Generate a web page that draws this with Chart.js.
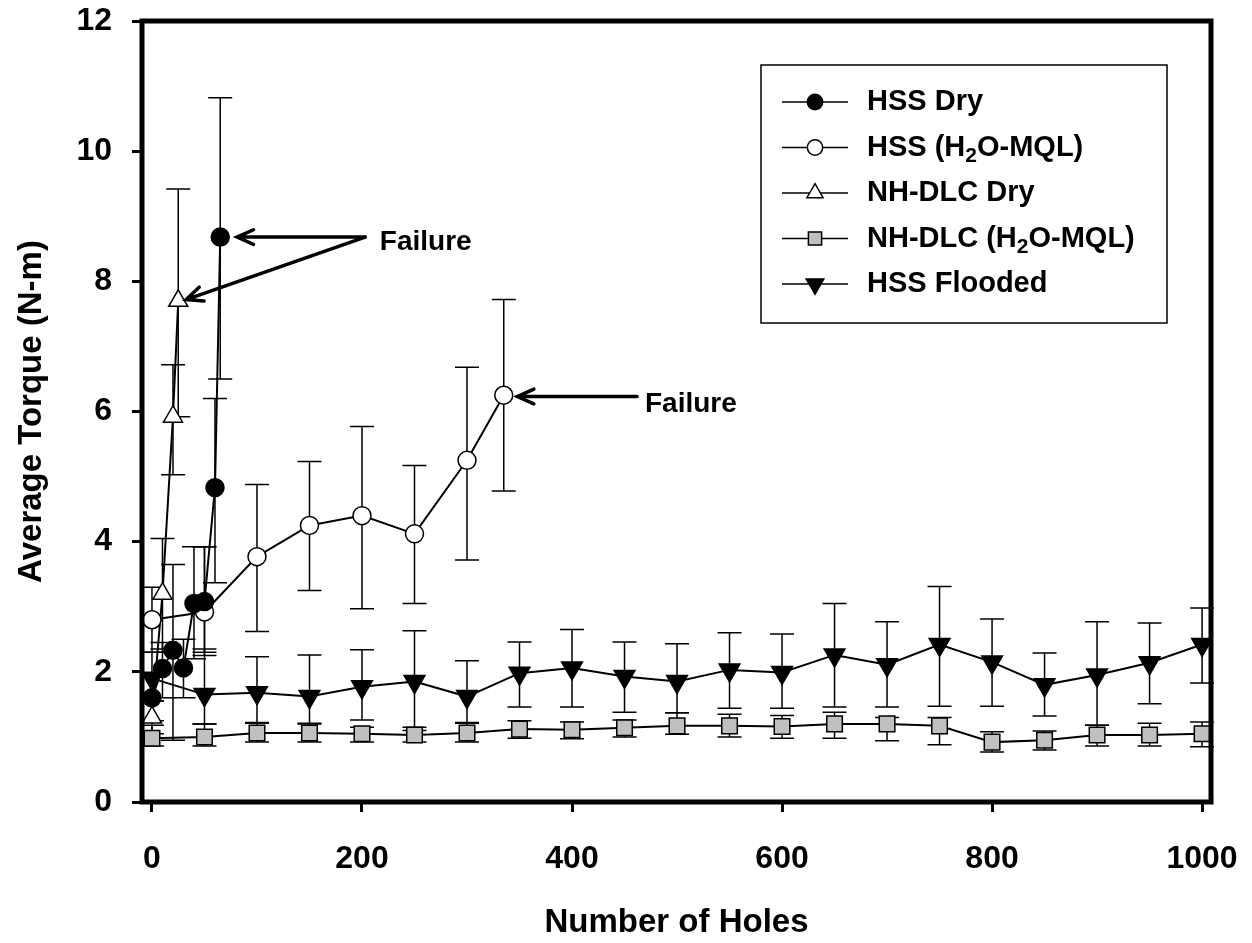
<!DOCTYPE html>
<html>
<head>
<meta charset="utf-8">
<title>Average Torque vs Number of Holes</title>
<script src="https://cdn.jsdelivr.net/npm/chart.js@4.4.1/dist/chart.umd.min.js"></script>
<style>
  html, body { margin: 0; padding: 0; background: #fff; }
</style>
</head>
<body>
<canvas id="torque-chart" width="1252" height="943"></canvas>
<script>
// tick labels
const xTicks = [0, 200, 400, 600, 800, 1000];
const yTicks = [0, 2, 4, 6, 8, 10, 12];

// HSS Dry
const hssDryX = [0, 10, 20, 30, 40, 50, 60, 65];
const hssDryY = [1.6, 2.05, 2.33, 2.06, 3.05, 3.08, 4.83, 8.68];
const hssDryHi = [1.95, 2.45, 3.65, 2.5, 3.92, 3.92, 6.2, 10.82];
const hssDryLo = [1.25, 1.6, 0.95, 1.6, 2.2, 2.25, 3.37, 6.5];

// HSS (H2O-MQL)
const hssMqlX = [0, 50, 100, 150, 200, 250, 300, 335];
const hssMqlY = [2.8, 2.92, 3.77, 4.25, 4.4, 4.12, 5.25, 6.25];
const hssMqlHi = [3.3, 3.92, 4.88, 5.23, 5.77, 5.17, 6.68, 7.72];
const hssMqlLo = [2.3, 2.3, 2.62, 3.25, 2.97, 3.05, 3.72, 4.78];

// NH-DLC Dry
const dlcDryX = [0, 10, 20, 25];
const dlcDryY = [1.3, 3.2, 5.92, 7.7];
const dlcDryHi = [1.55, 4.05, 6.72, 9.42];
const dlcDryLo = [1.05, 2.35, 5.03, 5.92];

// NH-DLC (H2O-MQL) and HSS Flooded share the same hole counts
const longX = [0, 50, 100, 150, 200, 250, 300, 350, 400, 450, 500,
               550, 600, 650, 700, 750, 800, 850, 900, 950, 1000];

const dlcMqlY = [0.98, 1.0, 1.06, 1.06, 1.05, 1.03, 1.06, 1.12, 1.11, 1.14, 1.17,
                 1.17, 1.16, 1.2, 1.2, 1.17, 0.92, 0.95, 1.03, 1.03, 1.05];
const dlcMqlHi = [1.18, 1.2, 1.21, 1.21, 1.15, 1.15, 1.21, 1.25, 1.23, 1.26, 1.37,
                  1.35, 1.33, 1.38, 1.3, 1.3, 1.08, 1.09, 1.18, 1.21, 1.23];
const dlcMqlLo = [0.86, 0.86, 0.92, 0.92, 0.92, 0.92, 0.92, 0.98, 0.97, 1.0, 1.04,
                  1.0, 0.98, 0.98, 0.94, 0.88, 0.77, 0.8, 0.86, 0.86, 0.85];

const floodY = [1.9, 1.65, 1.68, 1.62, 1.77, 1.85, 1.62, 1.98, 2.06, 1.93, 1.85,
                2.03, 1.99, 2.26, 2.11, 2.42, 2.15, 1.8, 1.95, 2.14, 2.42];
const floodHi = [2.3, 2.35, 2.23, 2.26, 2.34, 2.63, 2.17, 2.46, 2.65, 2.46, 2.43,
                 2.6, 2.58, 3.05, 2.77, 3.31, 2.81, 2.29, 2.77, 2.75, 2.98];
const floodLo = [1.55, 1.2, 1.22, 1.2, 1.26, 1.1, 1.22, 1.46, 1.46, 1.38, 1.37,
                 1.44, 1.44, 1.46, 1.46, 1.47, 1.47, 1.32, 1.18, 1.51, 1.83];

// "Failure" callouts, in data units: [tailX, tailY, tipX, tipY]
const failureArrows = [
  [203, 8.68, 81, 8.68],
  [203, 8.68, 32.5, 7.72],
  [462, 6.23, 348, 6.23]
];
const failureLabels = [[217, 8.6], [469.5, 6.11]];

const FONT = "'Liberation Sans', Arial, Helvetica, sans-serif";
Chart.defaults.font.family = FONT;
Chart.defaults.color = '#000';

function pts(xs, ys) {
  return xs.map((x, i) => ({ x: x, y: ys[i] }));
}

function series(label, xs, ys, hi, lo, marker) {
  return Object.assign({
    label: label,
    data: pts(xs, ys),
    errHi: hi,
    errLo: lo,
    borderColor: '#000',
    borderWidth: 2,
    pointBorderColor: '#000',
    pointBorderWidth: 1.5,
    pointHoverRadius: 0,
    tension: 0,
    fill: false
  }, marker);
}

const datasets = [
  series('HSS Dry', hssDryX, hssDryY, hssDryHi, hssDryLo,
    { pointStyle: 'circle', pointRadius: 9, pointBackgroundColor: '#000' }),
  series('HSS (H2O-MQL)', hssMqlX, hssMqlY, hssMqlHi, hssMqlLo,
    { pointStyle: 'circle', pointRadius: 9, pointBackgroundColor: '#fff' }),
  series('NH-DLC Dry', dlcDryX, dlcDryY, dlcDryHi, dlcDryLo,
    { pointStyle: 'triangle', pointRadius: 11, pointBackgroundColor: '#fff' }),
  series('NH-DLC (H2O-MQL)', longX, dlcMqlY, dlcMqlHi, dlcMqlLo,
    { pointStyle: 'rect', pointRadius: 11, pointBackgroundColor: '#c0c0c0' }),
  series('HSS Flooded', longX, floodY, floodHi, floodLo,
    { pointStyle: 'triangle', pointRotation: 180, pointRadius: 12, pointBackgroundColor: '#000' })
];

// vertical error bars with caps, drawn under the markers
const errorBars = {
  id: 'errorBars',
  beforeDatasetsDraw(chart) {
    const { ctx, scales: { x, y } } = chart;
    ctx.save();
    ctx.strokeStyle = '#000';
    ctx.lineWidth = 1.5;
    chart.data.datasets.forEach((ds) => {
      ds.data.forEach((p, i) => {
        const px = x.getPixelForValue(p.x);
        const top = y.getPixelForValue(ds.errHi[i]);
        const bot = y.getPixelForValue(ds.errLo[i]);
        ctx.beginPath();
        ctx.moveTo(px, top); ctx.lineTo(px, bot);
        ctx.moveTo(px - 12, top); ctx.lineTo(px + 12, top);
        ctx.moveTo(px - 12, bot); ctx.lineTo(px + 12, bot);
        ctx.stroke();
      });
    });
    ctx.restore();
  }
};

function arrow(ctx, x0, y0, x1, y1) {
  const a = Math.atan2(y1 - y0, x1 - x0);
  const len = 18, spread = 0.42;
  ctx.beginPath();
  ctx.moveTo(x0, y0);
  ctx.lineTo(x1, y1);
  ctx.moveTo(x1 - len * Math.cos(a - spread), y1 - len * Math.sin(a - spread));
  ctx.lineTo(x1, y1);
  ctx.lineTo(x1 - len * Math.cos(a + spread), y1 - len * Math.sin(a + spread));
  ctx.stroke();
}

// text with "H2O" written with a subscript 2
function subText(ctx, text, x, y, size) {
  const parts = text.split('H2O');
  ctx.textAlign = 'left';
  ctx.textBaseline = 'middle';
  let cx = x;
  parts.forEach((part, i) => {
    ctx.font = 'bold ' + size + 'px ' + FONT;
    ctx.fillText(part, cx, y);
    cx += ctx.measureText(part).width;
    if (i < parts.length - 1) {
      ctx.fillText('H', cx, y);
      cx += ctx.measureText('H').width;
      ctx.font = 'bold ' + Math.round(size * 0.72) + 'px ' + FONT;
      ctx.fillText('2', cx, y + size * 0.3);
      cx += ctx.measureText('2').width;
      ctx.font = 'bold ' + size + 'px ' + FONT;
      ctx.fillText('O', cx, y);
      cx += ctx.measureText('O').width;
    }
  });
}

const frameAndNotes = {
  id: 'frameAndNotes',
  afterDraw(chart) {
    const { ctx, chartArea: a, scales: { x, y } } = chart;
    ctx.save();

    // plot frame
    ctx.strokeStyle = '#000';
    ctx.lineWidth = 5;
    ctx.strokeRect(a.left, a.top, a.right - a.left, a.bottom - a.top);

    // failure callouts
    ctx.lineWidth = 3.5;
    ctx.lineCap = 'round';
    failureArrows.forEach((f) => {
      arrow(ctx, x.getPixelForValue(f[0]), y.getPixelForValue(f[1]),
                 x.getPixelForValue(f[2]), y.getPixelForValue(f[3]));
    });
    ctx.fillStyle = '#000';
    ctx.font = 'bold 28px ' + FONT;
    ctx.textAlign = 'left';
    ctx.textBaseline = 'middle';
    failureLabels.forEach((l) => {
      ctx.fillText('Failure', x.getPixelForValue(l[0]), y.getPixelForValue(l[1]));
    });

    // legend box
    const box = { left: a.left + 619, top: a.top + 44, width: 406, height: 258 };
    ctx.lineWidth = 1.5;
    ctx.lineCap = 'butt';
    ctx.strokeRect(box.left, box.top, box.width, box.height);
    chart.data.datasets.forEach((ds, i) => {
      const ry = box.top + 37 + i * 45.5;
      const lx = box.left + 21;
      ctx.strokeStyle = '#000';
      ctx.lineWidth = 1.5;
      ctx.beginPath();
      ctx.moveTo(lx, ry);
      ctx.lineTo(lx + 66, ry);
      ctx.stroke();
      ctx.fillStyle = ds.pointBackgroundColor;
      ctx.strokeStyle = '#000';
      Chart.helpers.drawPoint(ctx, {
        pointStyle: ds.pointStyle,
        radius: ds.pointRadius * 0.85,
        rotation: ds.pointRotation || 0,
        borderWidth: 1.5
      }, lx + 33, ry);
      ctx.fillStyle = '#000';
      subText(ctx, ds.label, box.left + 106, ry, 29);
    });
    ctx.restore();
  }
};

new Chart(document.getElementById('torque-chart'), {
  type: 'line',
  data: { datasets: datasets },
  plugins: [errorBars, frameAndNotes],
  options: {
    responsive: false,
    animation: false,
    devicePixelRatio: 1,
    layout: { padding: { top: 21, right: 41, left: 0, bottom: 0 } },
    plugins: {
      legend: { display: false },
      tooltip: { enabled: false }
    },
    scales: {
      x: {
        type: 'linear',
        min: -9.5,
        max: 1008.5,
        afterBuildTicks(s) { s.ticks = xTicks.map((v) => ({ value: v })); },
        afterFit(s) {
          s.height = 141;
          s.paddingLeft = 0;
          s.paddingRight = 0;
        },
        ticks: {
          autoSkip: false,
          maxRotation: 0,
          padding: 28,
          color: '#000',
          font: { size: 32, weight: 'bold' },
          callback: (v) => String(v)
        },
        grid: { drawOnChartArea: false, tickLength: 10, tickWidth: 3, tickColor: '#000' },
        border: { display: false },
        title: {
          display: true,
          text: 'Number of Holes',
          color: '#000',
          padding: 0,
          font: { size: 33, weight: 'bold', lineHeight: 1.2 }
        }
      },
      y: {
        type: 'linear',
        min: 0,
        max: 12,
        afterBuildTicks(s) { s.ticks = yTicks.map((v) => ({ value: v })); },
        afterFit(s) {
          s.width = 142;
          s.paddingTop = 0;
          s.paddingBottom = 0;
        },
        ticks: {
          autoSkip: false,
          padding: 20,
          color: '#000',
          font: { size: 32, weight: 'bold' },
          callback: (v) => String(v)
        },
        grid: { drawOnChartArea: false, tickLength: 10, tickWidth: 3, tickColor: '#000' },
        border: { display: false },
        title: {
          display: true,
          text: 'Average Torque (N-m)',
          color: '#000',
          padding: { top: 12, bottom: 0 },
          font: { size: 33, weight: 'bold', lineHeight: 1.2 }
        }
      }
    }
  }
});
</script>
</body>
</html>
